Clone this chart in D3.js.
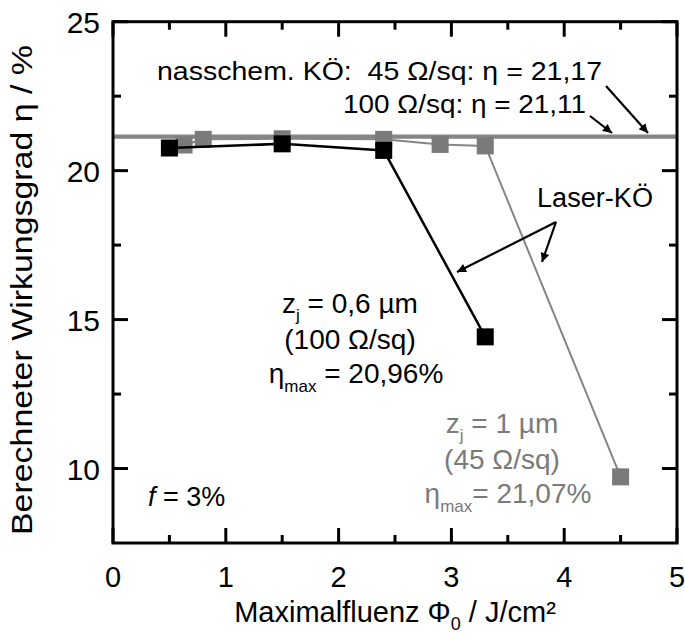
<!DOCTYPE html>
<html><head><meta charset="utf-8">
<script src="https://cdn.jsdelivr.net/npm/d3@7"></script>
<style>
html,body{margin:0;padding:0;background:#fff;}
svg text{font-family:"Liberation Sans",Arial,Helvetica,sans-serif;white-space:pre;}
</style></head>
<body><svg id="c" width="685" height="639"></svg>
<script>
// Data
const xTicks = [0,1,2,3,4,5];
const xMinor = [0.5,1.5,2.5,3.5,4.5];
const yTicks = [10,15,20,25];
const yMinor = [12.5,17.5,22.5];
const refLevels = [21.17, 21.11]; // nasschem. KÖ 45 and 100 Ω/sq
const blackX = [0.5, 1.5, 2.4, 3.3];
const blackY = [20.76, 20.90, 20.68, 14.42];
const grayX = [0.63, 0.8, 1.5, 2.4, 2.9, 3.3, 4.5];
const grayY = [20.86, 21.05, 21.07, 21.05, 20.88, 20.83, 9.72];

const svg = d3.select("#c");
const L=113, R=677, T=21.7, B=543;
const x = d3.scaleLinear().domain([0,5]).range([L,R]);
const y = d3.scaleLinear().domain([7.5,25]).range([B,T]);
const gray = "#858585";

refLevels.forEach(v=>{
  svg.append("line").attr("x1",x(0)).attr("x2",x(5)).attr("y1",y(v)).attr("y2",y(v))
    .attr("stroke",gray).attr("stroke-width",2.4);
});

const line = d3.line().x(d=>x(d[0])).y(d=>y(d[1]));
const gdata = grayX.map((v,i)=>[v,grayY[i]]);
const bdata = blackX.map((v,i)=>[v,blackY[i]]);
svg.append("path").attr("d",line(gdata)).attr("fill","none").attr("stroke",gray).attr("stroke-width",2);
svg.selectAll(".gs").data(gdata).enter().append("rect")
  .attr("x",d=>x(d[0])-8.5).attr("y",d=>y(d[1])-8.5).attr("width",17).attr("height",17).attr("fill","#7a7a7a");
svg.append("path").attr("d",line(bdata)).attr("fill","none").attr("stroke","#000").attr("stroke-width",2.5);
svg.selectAll(".bs").data(bdata).enter().append("rect")
  .attr("x",d=>x(d[0])-8.5).attr("y",d=>y(d[1])-8.5).attr("width",17).attr("height",17).attr("fill","#000");

// frame
svg.append("rect").attr("x",L).attr("y",T).attr("width",R-L).attr("height",B-T)
  .attr("fill","none").attr("stroke","#000").attr("stroke-width",3);
const maj=15, mnr=8;
xTicks.concat(xMinor).forEach(v=>{
  const len = xTicks.includes(v)?maj:mnr;
  svg.append("line").attr("x1",x(v)).attr("x2",x(v)).attr("y1",B).attr("y2",B-len).attr("stroke","#000").attr("stroke-width",3);
  svg.append("line").attr("x1",x(v)).attr("x2",x(v)).attr("y1",T).attr("y2",T+len).attr("stroke","#000").attr("stroke-width",3);
});
yTicks.concat(yMinor).forEach(v=>{
  const len = yTicks.includes(v)?maj:mnr;
  svg.append("line").attr("y1",y(v)).attr("y2",y(v)).attr("x1",L).attr("x2",L+len).attr("stroke","#000").attr("stroke-width",3);
  svg.append("line").attr("y1",y(v)).attr("y2",y(v)).attr("x1",R).attr("x2",R-len).attr("stroke","#000").attr("stroke-width",3);
});
svg.selectAll(".xl").data(xTicks).enter().append("text")
  .attr("x",d=>x(d)).attr("y",587).attr("text-anchor","middle").attr("font-size",29).text(d=>d);
svg.selectAll(".yl").data(yTicks).enter().append("text")
  .attr("x",100).attr("y",d=>y(d)+11).attr("text-anchor","end").attr("font-size",30).text(d=>d);

// axis titles
const xt = svg.append("text").attr("x",(L+R)/2).attr("y",622).attr("text-anchor","middle").attr("font-size",29);
xt.append("tspan").text("Maximalfluenz Φ");
xt.append("tspan").attr("font-size",18).attr("dy",8).text("0");
xt.append("tspan").attr("dy",-8).text(" / J/cm²");
svg.append("text").attr("transform",`translate(32,290) rotate(-90)`).attr("text-anchor","middle")
  .attr("font-size",30).attr("textLength",490).attr("lengthAdjust","spacingAndGlyphs")
  .text("Berechneter Wirkungsgrad η / %");

svg.append("defs").append("marker").attr("id","ah").attr("viewBox","0 0 10 10").attr("refX",10).attr("refY",5)
  .attr("markerWidth",14).attr("markerHeight",9).attr("markerUnits","userSpaceOnUse").attr("orient","auto")
  .append("path").attr("d","M0,0 L10,5 L0,10 z").attr("fill","#000");

// top annotations
svg.append("text").attr("x",157).attr("y",80).attr("font-size",26)
  .attr("textLength",445).attr("lengthAdjust","spacingAndGlyphs")
  .text("nasschem. KÖ:  45 Ω/sq: η = 21,17");
svg.append("text").attr("x",343).attr("y",113).attr("font-size",26)
  .attr("textLength",243).attr("lengthAdjust","spacingAndGlyphs")
  .text("100 Ω/sq: η = 21,11");
function arrow(x1,y1,x2,y2){
  svg.append("line").attr("x1",x1).attr("y1",y1).attr("x2",x2).attr("y2",y2)
    .attr("stroke","#000").attr("stroke-width",2.2).attr("marker-end","url(#ah)");
}
arrow(606,86,648,133);
arrow(590,116,612,133);

svg.append("text").attr("x",537).attr("y",207).attr("font-size",27)
  .attr("textLength",116).attr("lengthAdjust","spacingAndGlyphs").text("Laser-KÖ");
arrow(556,222,457,272);
arrow(556,222,542,262);

function block(cx, y0, col, zt, rt, et){
  const t1 = svg.append("text").attr("x",cx).attr("y",y0).attr("text-anchor","middle").attr("font-size",28).attr("fill",col);
  t1.append("tspan").text("z");
  t1.append("tspan").attr("font-size",17).attr("dy",8).text("j");
  t1.append("tspan").attr("dy",-8).text(zt);
  svg.append("text").attr("x",cx).attr("y",y0+36).attr("text-anchor","middle").attr("font-size",28).attr("fill",col).text(rt);
  const t3 = svg.append("text").attr("x",cx+6).attr("y",y0+70).attr("text-anchor","middle").attr("font-size",28).attr("fill",col);
  t3.append("tspan").text("η");
  t3.append("tspan").attr("font-size",17).attr("dy",9).text("max");
  t3.append("tspan").attr("dy",-9).text(et);
}
block(350,313,"#000"," = 0,6 µm","(100 Ω/sq)"," = 20,96%");
block(502,433,"#7a7a7a"," = 1 µm","(45 Ω/sq)","= 21,07%");

const ft = svg.append("text").attr("x",148).attr("y",506).attr("font-size",27);
ft.append("tspan").attr("font-style","italic").text("f");
ft.append("tspan").text(" = 3%");
</script></body></html>
